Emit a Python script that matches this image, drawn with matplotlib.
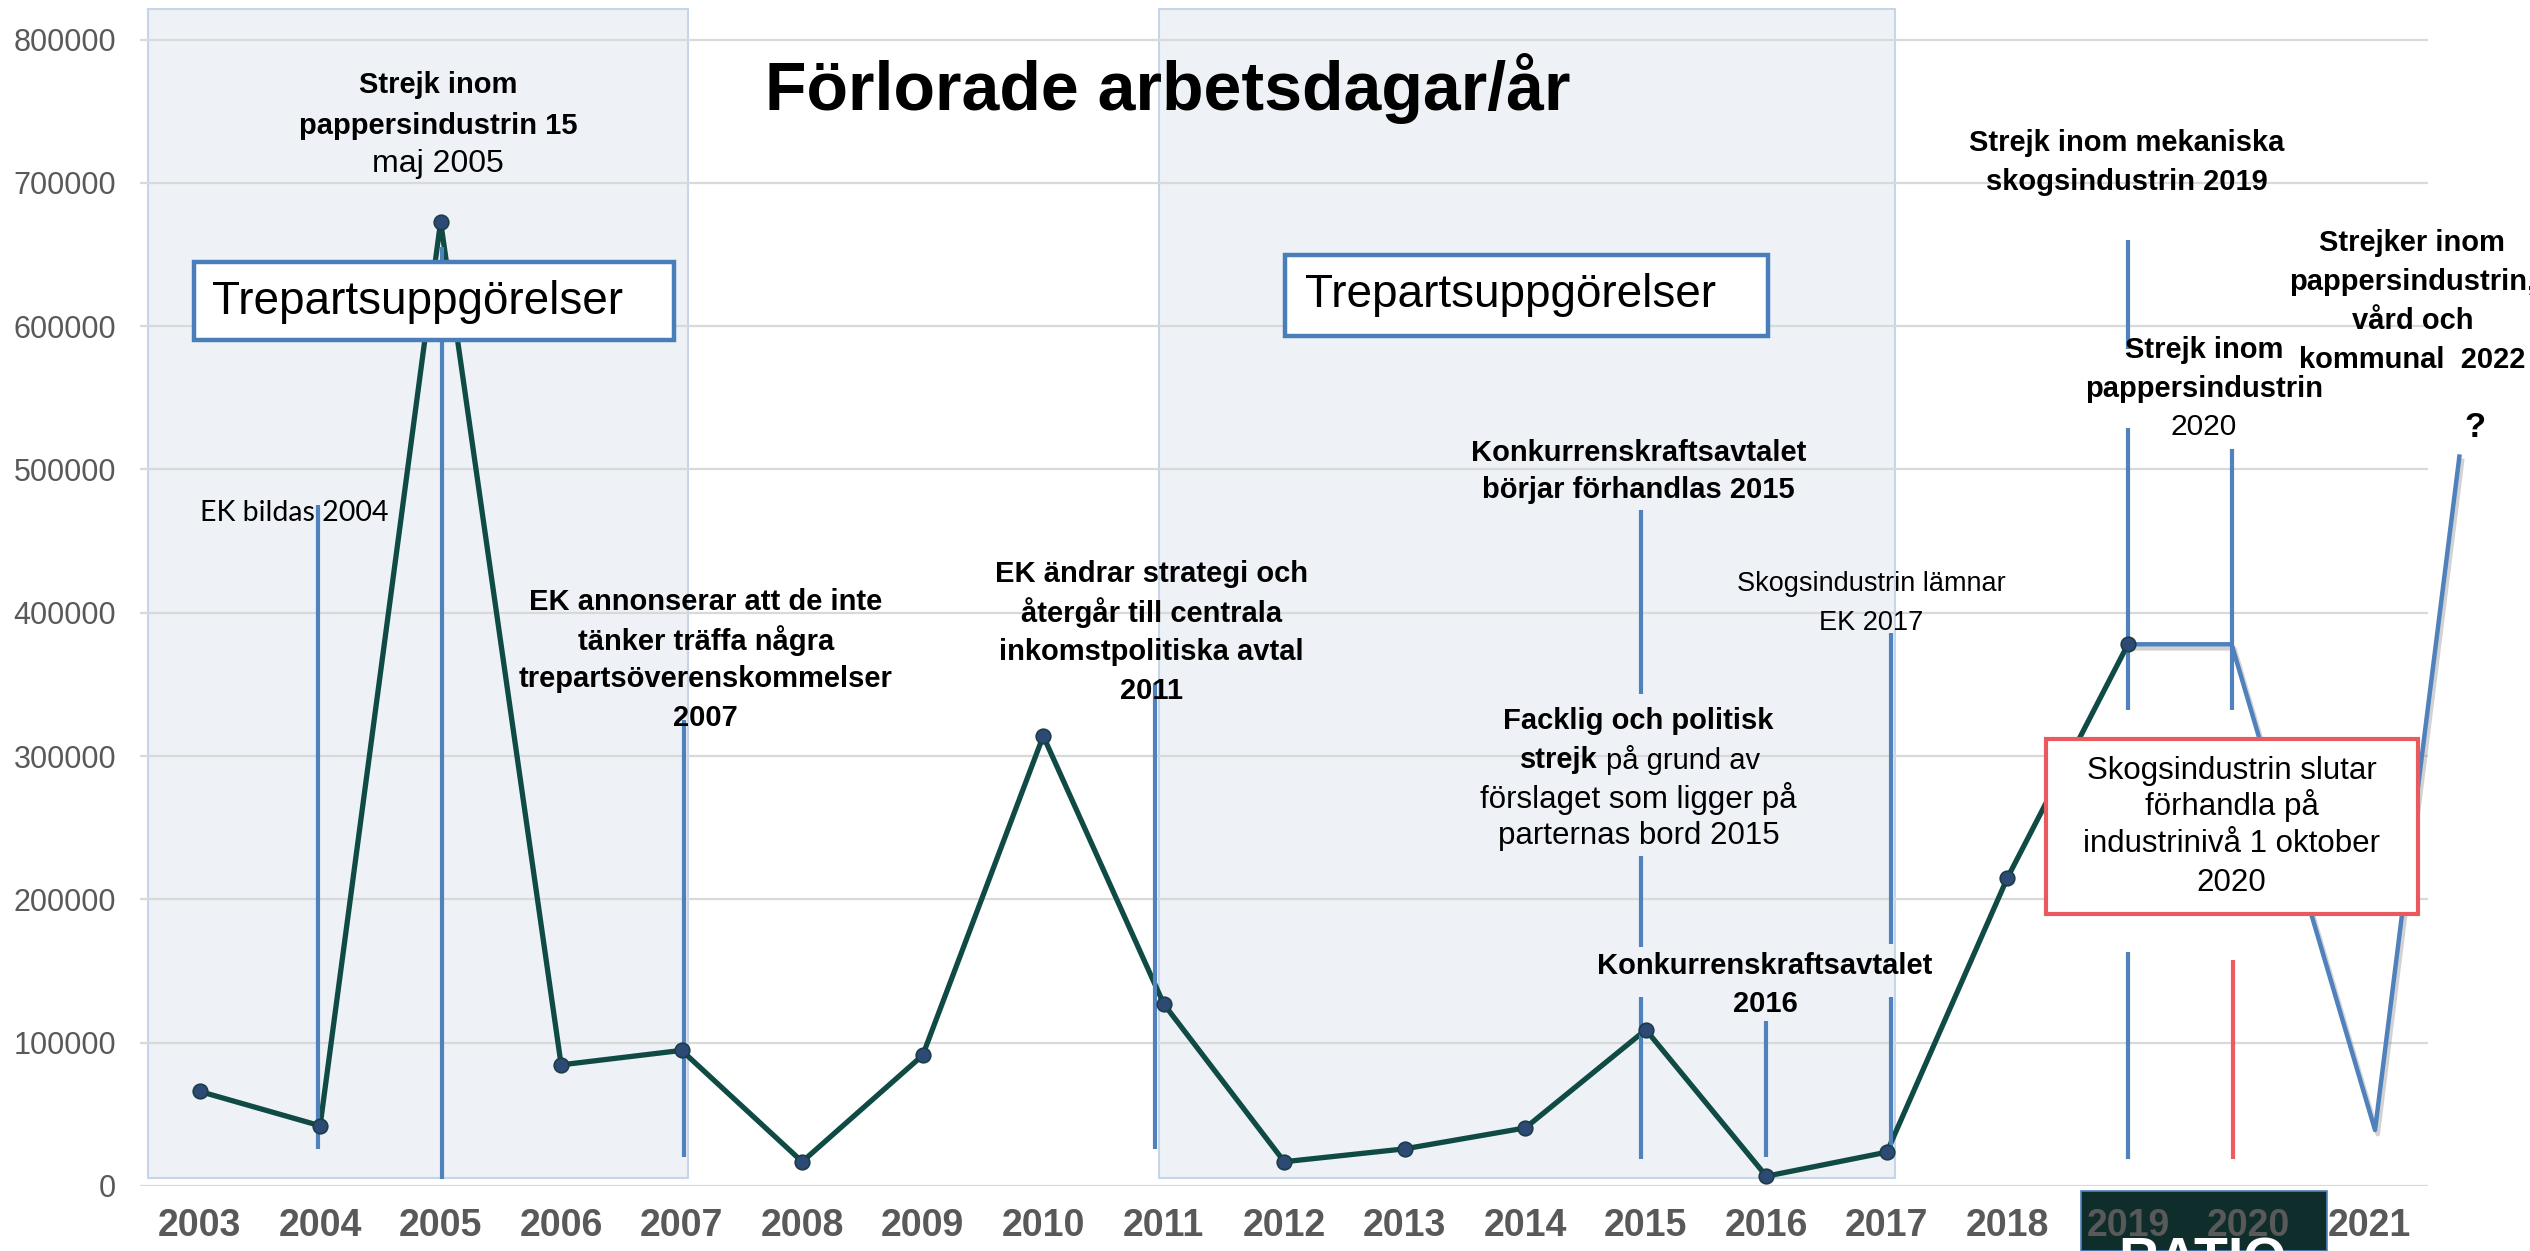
import matplotlib
matplotlib.use("Agg")
import matplotlib.pyplot as plt
from matplotlib.patches import Rectangle
import matplotlib.patheffects as pe

# ---------------- data ----------------
years = [2003, 2004, 2005, 2006, 2007, 2008, 2009, 2010, 2011, 2012,
         2013, 2014, 2015, 2016, 2017, 2018, 2019]
lost_days = [66000, 42000, 673000, 84500, 94600, 16900, 91200, 314000,
             127000, 16900, 25900, 40500, 109000, 6800, 23600, 215000, 378000]

# hand-drawn continuation (blue)
proj_x = [2019.0, 2019.86, 2021.05, 2021.75]
proj_y = [378000, 378000, 39000, 509000]

x_ticks = list(range(2003, 2022))
y_ticks = list(range(0, 800001, 100000))

# shaded periods "Trepartsuppgörelser"
band_x = [(2002.57, 2007.05), (2010.96, 2017.07)]
band_y = (5600, 821000)

# vertical event markers: (x, [(top, bottom), ...], colour)
BLUE = "#4F81BD"
RED = "#EC5B5E"
event_lines = [
    (2003.98, [(475000, 26000)], BLUE),
    (2005.01, [(655000, 5000)], BLUE),
    (2007.02, [(325000, 20000)], BLUE),
    (2010.93, [(351000, 26000)], BLUE),
    (2014.96, [(472000, 343000), (230000, 167000), (132000, 19000)], BLUE),
    (2016.00, [(115000, 20000)], BLUE),
    (2017.03, [(386000, 169000), (132000, 19000)], BLUE),
    (2019.00, [(660000, 584000), (529000, 332000), (163000, 19000)], BLUE),
    (2019.86, [(514000, 332000)], BLUE),
    (2019.87, [(158000, 19000)], RED),
]

FONT = "Liberation Sans"
plt.rcParams["font.family"] = [FONT, "DejaVu Sans"]

fig = plt.figure(figsize=(25.3, 12.51), dpi=100)
ax = fig.add_axes([0.0553, 0.052, 0.9044, 0.945])
ax.set_xlim(2002.505, 2021.49)
ax.set_ylim(0, 825000)

for s in ax.spines.values():
    s.set_visible(False)
ax.set_axisbelow(True)
ax.yaxis.grid(True, color="#D9D9D9", linewidth=1.6)
ax.xaxis.grid(False)
ax.set_yticks(y_ticks)
ax.set_yticklabels([str(v) for v in y_ticks], fontsize=22, color="#595959")
ax.set_xticks(x_ticks)
ax.set_xticklabels([str(v) for v in x_ticks], fontsize=27, color="#595959",
                   fontweight="bold")
ax.tick_params(axis="both", length=0)
ax.tick_params(axis="y", pad=17)
ax.tick_params(axis="x", pad=16)

# bands
for (x0, x1) in band_x:
    ax.add_patch(Rectangle((x0, band_y[0]), x1 - x0, band_y[1] - band_y[0],
                           facecolor="#EEF2F6", edgecolor="#C6D5EA",
                           linewidth=1.5, zorder=0.3, clip_on=False))

# main series
ax.plot(years, lost_days, color="#104A44", linewidth=3.8, zorder=3,
        solid_joinstyle="miter")
ax.plot(years, lost_days, linestyle="none", marker="o", markersize=10.5,
        markerfacecolor="#2C4A73", markeredgecolor="#1B3D4A",
        markeredgewidth=1.2, zorder=5)

# blue continuation with shadow
ax.plot(proj_x, proj_y, color=BLUE, linewidth=3.2, zorder=3.2, clip_on=False,
        path_effects=[pe.SimpleLineShadow(offset=(2, -3), shadow_color="gray",
                                          alpha=0.35),
                      pe.Normal()])

# event markers
for x, segs, col in event_lines:
    for top, bot in segs:
        ax.plot([x, x], [bot, top], color=col, linewidth=3.0, zorder=4,
                solid_capstyle="butt")


def block(x, ys, parts, zorder=6):
    for y, (txt, w, size) in zip(ys, parts):
        ax.text(x, y, txt, ha="center", va="center", fontsize=size,
                fontweight=w, color="black", zorder=zorder, clip_on=False)


B, N = "bold", "normal"
block(2004.98, [768000, 740000, 713000],
      [("Strejk inom", B, 21), ("pappersindustrin 15", B, 21),
       ("maj 2005", N, 23)])
ax.text(2003.0, 469600, "EK bildas 2004", ha="left", va="center",
        fontsize=20.5, family=["Lato", "DejaVu Sans"], zorder=6)
block(2007.20, [407700, 380600, 353600, 326600],
      [("EK annonserar att de inte", B, 21), ("tänker träffa några", B, 21),
       ("trepartsöverenskommelser", B, 21), ("2007", B, 21)])
block(2010.90, [426800, 399800, 372700, 345700],
      [("EK ändrar strategi och", B, 21), ("återgår till centrala", B, 21),
       ("inkomstpolitiska avtal", B, 21), ("2011", B, 21)])
block(2014.94, [511300, 485400],
      [("Konkurrenskraftsavtalet", B, 21), ("börjar förhandlas 2015", B, 21)])
block(2014.94, [324300, 270300, 244400],
      [("Facklig och politisk", B, 21), ("förslaget som ligger på", N, 22.5),
       ("parternas bord 2015", N, 22.5)])
ax.text(2014.60, 297300, "strejk", ha="right", va="center", fontsize=21,
        fontweight="bold", zorder=6)
ax.text(2014.67, 297300, "på grund av", ha="left", va="center", fontsize=21,
        zorder=6)
block(2015.99, [153200, 127300],
      [("Konkurrenskraftsavtalet", B, 21), ("2016", B, 21)])
block(2016.87, [420000, 393000],
      [("Skogsindustrin lämnar", N, 19.5), ("EK 2017", N, 19.5)])
block(2018.99, [727500, 700500],
      [("Strejk inom mekaniska", B, 21), ("skogsindustrin 2019", B, 21)])
block(2019.63, [583300, 556300, 529300],
      [("Strejk inom", B, 21), ("pappersindustrin", B, 21), ("2020", N, 21.5)])
block(2021.36, [657700, 630600, 603600, 576600],
      [("Strejker inom", B, 21), ("pappersindustrin,", B, 21),
       ("vård och", B, 21), ("kommunal  2022", B, 21)])
ax.text(2021.88, 529300, "?", ha="center", va="center", fontsize=25,
        fontweight="bold", zorder=6, clip_on=False)

# Trepartsuppgörelser boxes
for (bx0, bx1, by0, by1, tx, ty) in [
        (2002.95, 2006.94, 590000, 645000, 2003.10, 617000),
        (2012.01, 2016.01, 593000, 650000, 2012.17, 622000)]:
    ax.add_patch(Rectangle((bx0, by0), bx1 - bx0, by1 - by0,
                           facecolor="white", edgecolor="#4A7EBB",
                           linewidth=3.2, zorder=7))
    ax.text(tx, ty, "Trepartsuppgörelser", ha="left", va="center",
            fontsize=33, zorder=8)

# red box
ax.add_patch(Rectangle((2018.32, 190000), 2021.41 - 2018.32, 312000 - 190000,
                       facecolor="white", edgecolor="#E85A5E",
                       linewidth=3.0, zorder=7, clip_on=False))
for y, txt in zip([289400, 265800, 238700, 211700],
                  ["Skogsindustrin slutar", "förhandla på",
                   "industrinivå 1 oktober", "2020"]):
    ax.text(2019.86, y, txt, ha="center", va="center", fontsize=22.5,
            zorder=8)

# title
fig.text(0.4617, 0.912, "Förlorade arbetsdagar/år", ha="center",
         va="baseline", fontsize=49, fontweight="bold", color="black")

# RATIO logo box at the bottom (partly cut)
fig.patches.append(Rectangle((0.8225, 0.0), 0.0973, 0.048,
                             transform=fig.transFigure, facecolor="#0F2E2B",
                             edgecolor="#4F81BD", linewidth=1.2, zorder=-2))
fig.text(0.8707, 0.0112, "RATIO", ha="center", va="top", fontsize=40,
         fontweight="bold", color="white", zorder=-1)

fig.savefig("out.png", dpi=100)
